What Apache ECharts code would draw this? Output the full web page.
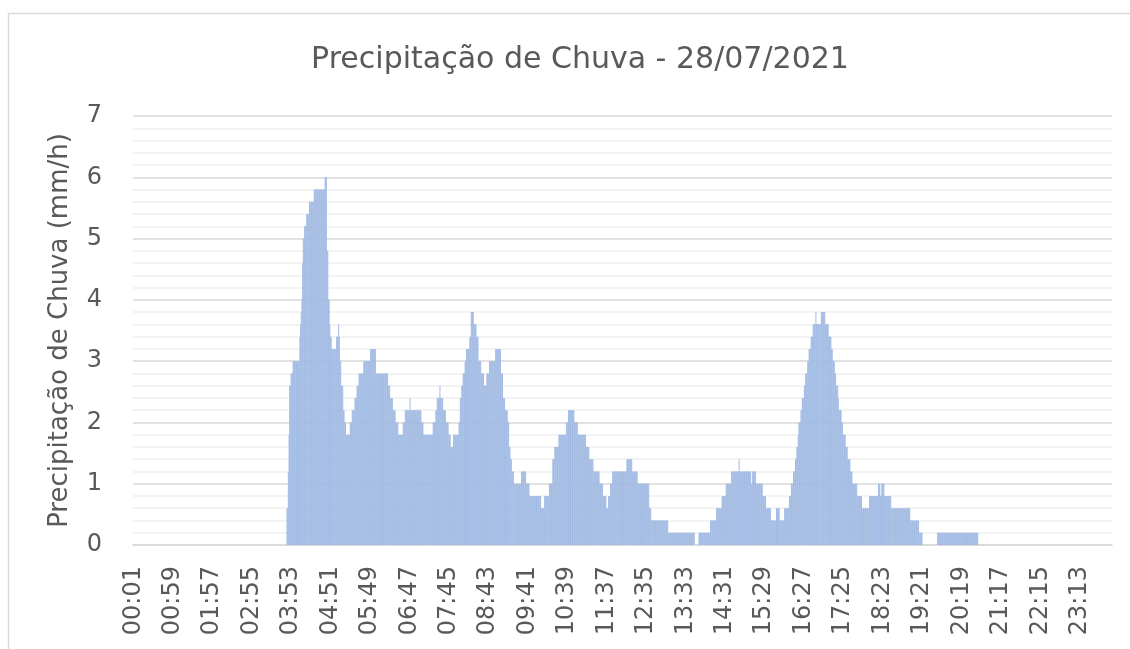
<!DOCTYPE html>
<html>
<head>
<meta charset="utf-8">
<script src="https://cdn.jsdelivr.net/npm/echarts@6/dist/echarts.min.js"></script>
<style>
  html, body { margin: 0; padding: 0; background: #ffffff; }
  #chart { width: 1130px; height: 649px; }
</style>
</head>
<body>
<div id="chart"></div>
<script>
// Rain gauge readings for 28/07/2021, one reading per minute (00:01 .. 24:00).
// The series is stored as the times where the reading changes and the new value (mm/h).
const changeTimes = [
  "03:47","03:49","03:50","03:51","03:53","03:56","04:06","04:07","04:08","04:09",
  "04:10","04:11","04:13","04:16","04:20","04:27","04:43","04:46","04:48","04:50",
  "04:51","04:53","05:00","05:03","05:04","05:05","05:07","05:10","05:12","05:14",
  "05:20","05:23","05:27","05:30","05:33","05:40","05:50","05:58","06:16","06:19",
  "06:23","06:27","06:31","06:38","06:41","06:48","06:49","07:05","07:08","07:22",
  "07:26","07:28","07:32","07:33","07:37","07:41","07:45","07:48","07:52","08:00",
  "08:02","08:04","08:06","08:09","08:11","08:16","08:18","08:22","08:26","08:29",
  "08:33","08:37","08:41","08:45","08:54","09:02","09:05","09:08","09:12","09:14",
  "09:16","09:18","09:21","09:32","09:39","09:44","10:01","10:06","10:13","10:18",
  "10:21","10:27","10:38","10:41","10:50","10:55","11:07","11:12","11:18","11:27",
  "11:32","11:37","11:40","11:43","11:46","12:07","12:15","12:23","12:40","12:43",
  "13:08","13:47","13:53","14:10","14:19","14:27","14:33","14:41","14:52","14:53",
  "15:10","15:12","15:17","15:27","15:32","15:39","15:47","15:52","15:59","16:06",
  "16:09","16:12","16:15","16:17","16:19","16:20","16:23","16:25","16:28","16:30",
  "16:33","16:35","16:38","16:41","16:45","16:46","16:53","16:59","17:04","17:08",
  "17:10","17:13","17:15","17:18","17:19","17:23","17:25","17:29","17:32","17:36",
  "17:39","17:46","17:53","18:04","18:17","18:20","18:22","18:26","18:36","19:04",
  "19:17","19:22","19:44","20:44"
];
const changeValues = [
  0.6,1.2,1.8,2.6,2.8,3.0,3.4,3.6,3.8,4.0,
  4.6,5.0,5.2,5.4,5.6,5.8,6.0,4.8,4.0,3.6,
  3.4,3.2,3.4,3.6,3.4,3.0,2.6,2.2,2.0,1.8,
  2.0,2.2,2.4,2.6,2.8,3.0,3.2,2.8,2.6,2.4,
  2.2,2.0,1.8,2.0,2.2,2.4,2.2,2.0,1.8,2.0,
  2.2,2.4,2.6,2.4,2.2,2.0,1.8,1.6,1.8,2.0,
  2.4,2.6,2.8,3.0,3.2,3.4,3.8,3.6,3.4,3.0,
  2.8,2.6,2.8,3.0,3.2,2.8,2.4,2.2,2.0,1.6,
  1.4,1.2,1.0,1.2,1.0,0.8,0.6,0.8,1.0,1.4,
  1.6,1.8,2.0,2.2,2.0,1.8,1.6,1.4,1.2,1.0,
  0.8,0.6,0.8,1.0,1.2,1.4,1.2,1.0,0.6,0.4,
  0.2,0,0.2,0.4,0.6,0.8,1.0,1.2,1.4,1.2,
  1.0,1.2,1.0,0.8,0.6,0.4,0.6,0.4,0.6,0.8,
  1.0,1.2,1.4,1.6,1.8,2.0,2.2,2.4,2.6,2.8,
  3.0,3.2,3.4,3.6,3.8,3.6,3.8,3.6,3.4,3.2,
  3.0,2.8,2.6,2.4,2.2,2.0,1.8,1.6,1.4,1.2,
  1.0,0.8,0.6,0.8,1.0,0.8,1.0,0.8,0.6,0.4,
  0.2,0,0.2,0
];
const yTicks = [0, 1, 2, 3, 4, 5, 6, 7];

function pad(n) { return (n < 10 ? '0' : '') + n; }
function toMinute(t) { const p = t.split(':'); return (+p[0]) * 60 + (+p[1]); }

// Category labels for every minute of the day, starting at 00:01
const categories = [];
const values = [];
let k = -1;
for (let m = 1; m <= 1440; m++) {
  const mm = m % 1440;
  categories.push(pad(Math.floor(mm / 60)) + ':' + pad(mm % 60));
  while (k + 1 < changeTimes.length && toMinute(changeTimes[k + 1]) <= m) k++;
  values.push(k >= 0 ? changeValues[k] : 0);
}

const chart = echarts.init(document.getElementById('chart'), null, { renderer: 'canvas' });
const textColor = '#595959';
const font = '"DejaVu Sans", "Open Sans", sans-serif';

chart.setOption({
  backgroundColor: '#ffffff',
  animation: false,
  title: {
    text: 'Precipitação de Chuva - 28/07/2021',
    left: 575,
    textAlign: 'center',
    top: 40,
    textStyle: { color: textColor, fontSize: 30, fontWeight: 'normal', fontFamily: font }
  },
  graphic: [{
    type: 'rect',
    shape: { x: 8.5, y: 13.5, width: 1140, height: 700 },
    style: { fill: 'none', stroke: '#d9d9d9', lineWidth: 1.5 },
    silent: true,
    z: -1
  }],
  grid: { left: 133, right: 18, top: 116, bottom: 104, containLabel: false },
  xAxis: {
    type: 'category',
    data: categories,
    axisLine: { show: true, lineStyle: { color: '#d9d9d9', width: 1.5 } },
    axisTick: { show: false },
    axisLabel: {
      interval: 57,
      rotate: 90,
      margin: 21,
      color: textColor,
      fontSize: 24,
      fontFamily: font
    },
    splitLine: { show: false }
  },
  yAxis: {
    type: 'value',
    min: yTicks[0],
    max: yTicks[yTicks.length - 1],
    interval: 1,
    name: 'Precipitação de Chuva (mm/h)',
    nameLocation: 'middle',
    nameGap: 60,
    nameTextStyle: { color: textColor, fontSize: 26, fontFamily: font },
    axisLine: { show: false },
    axisTick: { show: false },
    axisLabel: { margin: 31, color: textColor, fontSize: 24, fontFamily: font },
    splitLine: { show: true, lineStyle: { color: '#d9d9d9', width: 1.5 } },
    minorTick: { show: false, splitNumber: 5 },
    minorSplitLine: { show: true, lineStyle: { color: '#efefef', width: 1.5 } }
  },
  series: [{
    type: 'bar',
    data: values,
    barCategoryGap: '0%',
    itemStyle: { color: '#a2bbe3' },
    emphasis: { disabled: true }
  }]
});
</script>
</body>
</html>
